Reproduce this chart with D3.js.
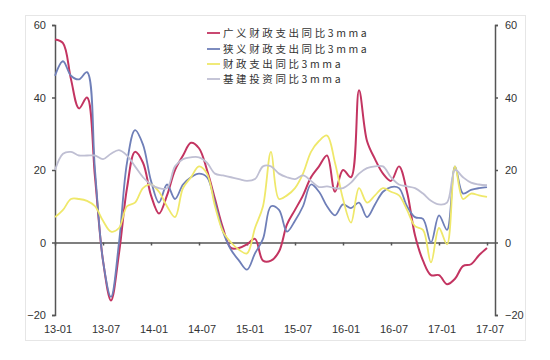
<!DOCTYPE html>
<html><head><meta charset="utf-8">
<script src="https://cdn.jsdelivr.net/npm/d3@7"></script>
<style>
html,body{margin:0;padding:0;background:#fff;}
svg{display:block;}
</style></head>
<body>
<svg id="chart" width="550" height="360"></svg>
<script>
// ---- data (monthly, 2013-01 .. 2017-07) ----
const seriesNames = ["广义财政支出同比3mma","狭义财政支出同比3mma","财政支出同比3mma","基建投资同比3mma"];
const xTickLabels = ["13-01","13-07","14-01","14-07","15-01","15-07","16-01","16-07","17-01","17-07"];
const yTicks = [-20, 0, 20, 40, 60];

const broadFiscal = [56,55,45,37,40,18,-5,-16,-3,15,25,22,13,8,13,20,24,27.5,26,20,12,4,-1.5,-1.5,-0.5,1,-5,-5,-2.5,5,9,13,18,21,24,14,20,18,42,28,23,19,17,21,14,2,-5,-9,-9,-11.5,-10,-6.5,-6,-3.5,-1.5];
const narrowFiscal = [46,50,46,45,47,20,-5,-15,0,22,31,27,17,11,16,12,16,18,19,18,11,3,-2,-5,-7.5,-3,1,10,9,3,6,10,16,14,10,7.5,10.5,9.5,11,7,10.5,14,15.3,15,10,7,6.5,0,7.5,3.5,21,13.5,14.5,15,15.3];
const fiscalSpend = [7,9,12,12,11.5,10,6,3,4,10,11,15,16,14,10,7,15,18,21,19,10,3,0,-2,-3,4,10,25,12,13,15,19,25,28,29.5,22,12,5.5,15,11,13,15,14,13,9,4.5,3.5,-5.5,4,-0.5,21,12,13.5,13,12.6];
const infraInvest = [20,24.5,25,24,24,24,23,24.5,25.5,24,21,18,16,15,15,21,23,23.5,23.5,22,19,18.5,18,17.5,17,17.5,21,21,19,18,17.5,18.5,17,15.3,15.5,15,15,16.5,19,20.5,21,21,18,16,15.5,15,13.5,11.5,10.5,11,20,18,16.5,16,15.8];
const colors = ["#c33461","#6f7fb8","#efe86a","#bfbfd3"];

const allSeries = [broadFiscal, narrowFiscal, fiscalSpend, infraInvest];

const svg = d3.select("#chart");

// outer faint frame
svg.append("rect").attr("x",25.5).attr("y",15.5).attr("width",500).attr("height",325)
  .attr("fill","#fff").attr("stroke","#e6e6e6");

const x = d3.scaleLinear().domain([0,55]).range([55,495]);
const y = d3.scaleLinear().domain([-20,60]).range([315,25]);

const axisColor = "#555";
const fontNum = "'Liberation Sans', Arial, sans-serif";

// left axis
const gl = svg.append("g").attr("transform","translate(55,0)")
  .call(d3.axisLeft(y).tickValues(yTicks).tickSize(3).tickSizeOuter(3).tickFormat(d3.format("d")));
// right axis
const gr = svg.append("g").attr("transform","translate(495,0)")
  .call(d3.axisRight(y).tickValues(yTicks).tickSize(3).tickSizeOuter(3).tickFormat(d3.format("d")));
[gl,gr].forEach(g=>{
  g.select(".domain").attr("stroke",axisColor).attr("stroke-width",1.5);
  g.selectAll(".tick line").attr("stroke",axisColor).attr("stroke-width",1.5);
  g.selectAll("text").attr("font-family",fontNum).attr("font-size",11).attr("fill","#333");
});
gl.selectAll("text").attr("x",-9);
gr.selectAll("text").attr("x",10);

// x axis at zero
const tickMonths = xTickLabels.map((d,i)=>i*6);
const gx = svg.append("g").attr("transform",`translate(0,${y(0)})`)
  .call(d3.axisBottom(x).tickValues(tickMonths).tickSize(3).tickSizeOuter(0).tickFormat(""));
gx.select(".domain").attr("stroke",axisColor).attr("stroke-width",1.5);
gx.selectAll(".tick line").attr("stroke",axisColor).attr("stroke-width",1.5);

// x labels at bottom
svg.append("g").selectAll("text").data(xTickLabels).enter().append("text")
  .attr("x",(d,i)=>x(i*6)+3).attr("y",333)
  .attr("text-anchor","middle").attr("font-family",fontNum).attr("font-size",11).attr("fill","#333")
  .text(d=>d);

// lines
const line = d3.line().x((d,i)=>x(i)).y(d=>y(d)).curve(d3.curveCatmullRom.alpha(0.5));
allSeries.forEach((s,k)=>{
  svg.append("path").datum(s).attr("d",line).attr("fill","none")
    .attr("stroke",colors[k]).attr("stroke-width",k===0?2:1.8).attr("stroke-linejoin","round");
});

// legend
const lg = svg.append("g");
const ly = [33,49,64,79];
seriesNames.forEach((n,k)=>{
  lg.append("line").attr("x1",207).attr("x2",220).attr("y1",ly[k]).attr("y2",ly[k])
    .attr("stroke",colors[k]).attr("stroke-width",1.8);
  lg.append("text").attr("x",223).attr("y",ly[k]+4)
    .attr("font-family","'Noto Sans CJK SC', sans-serif").attr("font-size",10.5)
    .attr("letter-spacing","2.6px").attr("fill","#333").text(n);
});
</script>
</body></html>
